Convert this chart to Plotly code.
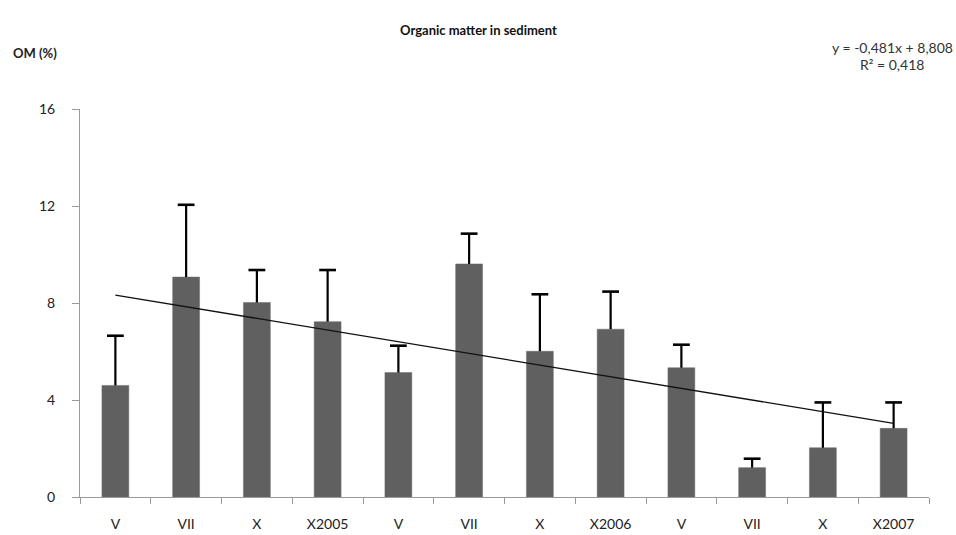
import plotly.graph_objects as go

# Sampling months per year and organic matter content (%)
categories = ["V", "VII", "X", "X2005", "V", "VII", "X", "X2006", "V", "VII", "X", "X2007"]
om_mean = [4.6, 9.07, 8.02, 7.23, 5.13, 9.61, 6.01, 6.92, 5.33, 1.21, 2.03, 2.83]
om_sd = [2.05, 2.98, 1.34, 2.13, 1.11, 1.25, 2.35, 1.55, 0.95, 0.37, 1.87, 1.07]

# Linear trend
slope = -0.481
intercept = 8.808
r_squared = 0.418

x_idx = list(range(1, len(categories) + 1))
trend = [slope * x + intercept for x in x_idx]
err_top = [m + s for m, s in zip(om_mean, om_sd)]

# Upward-only error whiskers: vertical stems separated by None
stem_x, stem_y = [], []
for x, m, t in zip(x_idx, om_mean, err_top):
    stem_x += [x, x, None]
    stem_y += [m, t, None]

FONT = "Lato, 'Open Sans', sans-serif"
W, H = 956, 535
ML, MR, MT, MB = 80, 27, 109, 38

fig = go.Figure()
fig.add_trace(go.Bar(
    x=x_idx, y=om_mean,
    width=0.38,
    marker=dict(color="#606060", line=dict(color="#6a6a6a", width=0.5)),
    showlegend=False,
))
fig.add_trace(go.Scatter(
    x=stem_x, y=stem_y, mode="lines",
    line=dict(color="#000000", width=2.2),
    showlegend=False,
))
fig.add_trace(go.Scatter(
    x=x_idx, y=err_top, mode="markers",
    marker=dict(symbol="line-ew", size=12, line=dict(color="#000000", width=2.6)),
    showlegend=False,
))
fig.add_trace(go.Scatter(
    x=x_idx, y=trend, mode="lines",
    line=dict(color="#111111", width=1.3),
    showlegend=False,
))


def px_x(px):
    return (px - ML) / (W - ML - MR)


def px_y(py):
    return (H - MB - py) / (H - MT - MB)


eq_text = f"y = {str(slope).replace('.', ',')}x + {str(intercept).replace('.', ',')}"
r2_text = f"R² = {str(r_squared).replace('.', ',')}"

fig.update_layout(
    width=W, height=H,
    margin=dict(l=ML, r=MR, t=MT, b=MB),
    paper_bgcolor="#ffffff", plot_bgcolor="#ffffff",
    font=dict(family=FONT, size=12, color="#222222"),
    annotations=[
        dict(text="<b>Organic matter in sediment</b>", xref="paper", yref="paper",
             x=px_x(478), y=px_y(20), showarrow=False,
             font=dict(size=13, color="#111111")),
        dict(text="<b>OM (%)</b>", xref="paper", yref="paper",
             x=px_x(11), xanchor="left", y=px_y(43), showarrow=False,
             font=dict(size=13, color="#222222")),
        dict(text=eq_text, xref="paper", yref="paper",
             x=px_x(955), xanchor="right", y=px_y(37), showarrow=False,
             font=dict(size=14, color="#333333")),
        dict(text=r2_text, xref="paper", yref="paper",
             x=px_x(926), xanchor="right", y=px_y(54), showarrow=False,
             font=dict(size=14, color="#333333")),
    ],
)

fig.update_xaxes(
    range=[0.5, len(categories) + 0.5],
    tickmode="array", tickvals=x_idx, ticktext=categories,
    ticks="", showgrid=False, zeroline=False, automargin=False,
    showline=True, linecolor="#9a9a9a", linewidth=1,
    tickfont=dict(size=14, color="#222222"),
    ticklabelstandoff=14,
    minor=dict(tickmode="linear", tick0=0.5, dtick=1, ticks="outside",
               ticklen=6, tickcolor="#9a9a9a", tickwidth=1, showgrid=False),
)
fig.update_yaxes(
    range=[0, 16], tickmode="array", tickvals=[0, 4, 8, 12, 16],
    ticks="outside", ticklen=7, tickcolor="#9a9a9a",
    showgrid=False, zeroline=False, automargin=False,
    showline=True, linecolor="#9a9a9a", linewidth=1,
    tickfont=dict(size=14, color="#222222"),
    ticklabelstandoff=14,
)

fig.write_html("out.html")
